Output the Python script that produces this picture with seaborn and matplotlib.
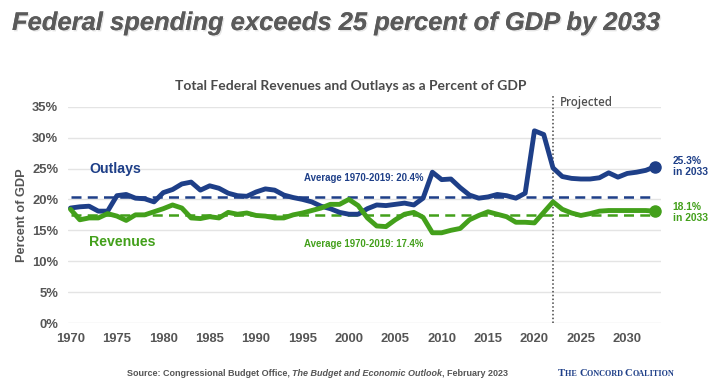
import numpy as np
import pandas as pd
import matplotlib
matplotlib.use("Agg")
import matplotlib.pyplot as plt
import matplotlib.patheffects as pe
import seaborn as sns

# ---------------- data ----------------
years = list(range(1970, 2034))
outlays = [18.6, 18.8, 18.9, 18.1, 18.1, 20.6, 20.8, 20.2, 20.1, 19.6,
           21.1, 21.6, 22.5, 22.8, 21.5, 22.2, 21.8, 21.0, 20.6, 20.5,
           21.2, 21.7, 21.5, 20.7, 20.3, 20.0, 19.6, 18.9, 18.5, 17.9,
           17.6, 17.6, 18.5, 19.1, 19.0, 19.2, 19.4, 19.1, 20.2, 24.4,
           23.2, 23.3, 21.9, 20.7, 20.2, 20.4, 20.8, 20.6, 20.2, 21.0,
           31.1, 30.5, 25.1, 23.7, 23.4, 23.3, 23.3, 23.5, 24.3, 23.6,
           24.2, 24.4, 24.7, 25.3]
revenues = [18.4, 16.7, 17.0, 17.0, 17.7, 17.3, 16.6, 17.5, 17.5, 18.0,
            18.5, 19.1, 18.6, 17.0, 16.9, 17.2, 17.0, 17.9, 17.6, 17.8,
            17.4, 17.3, 17.0, 17.0, 17.5, 17.8, 18.2, 18.6, 19.2, 19.2,
            20.0, 19.0, 17.0, 15.7, 15.6, 16.7, 17.6, 17.9, 17.1, 14.6,
            14.6, 15.0, 15.3, 16.7, 17.4, 18.0, 17.6, 17.2, 16.3, 16.3,
            16.2, 17.9, 19.6, 18.4, 17.8, 17.4, 17.7, 18.1, 18.2, 18.2,
            18.2, 18.2, 18.2, 18.1]
avg_outlays = 20.4
avg_revenues = 17.4
projection_start = 2022
xticks = [1970, 1975, 1980, 1985, 1990, 1995, 2000, 2005, 2010, 2015, 2020, 2025, 2030]
yticks = [0, 5, 10, 15, 20, 25, 30, 35]
ytick_labels = [f"{v}%" for v in yticks]

BLUE = "#1e3f88"
GREEN = "#43a01b"
GRAY = "#555555"

df = pd.DataFrame({
    "year": years * 2,
    "pct": outlays + revenues,
    "series": ["Outlays"] * len(years) + ["Revenues"] * len(years),
})

sns.set_theme(style="white")
plt.rcParams["font.family"] = ["Liberation Sans", "DejaVu Sans"]

fig = plt.figure(figsize=(7.12, 3.81), dpi=100)
ax = fig.add_axes([68 / 712, 1 - 323 / 381, 593 / 712, 216.3 / 381])

sns.lineplot(data=df, x="year", y="pct", hue="series",
             palette={"Outlays": BLUE, "Revenues": GREEN},
             linewidth=3.5, legend=False, ax=ax, zorder=4)

# average lines
ax.plot([1970, 2033], [avg_outlays] * 2, color=BLUE, lw=1.8,
        dashes=(4, 2.5), zorder=3)
ax.plot([1970, 2033], [avg_revenues] * 2, color=GREEN, lw=1.8,
        dashes=(4, 2.5), zorder=3)

# end dots
ax.plot([years[-1]], [outlays[-1]], "o", color=BLUE, ms=8, clip_on=False, zorder=5)
ax.plot([years[-1]], [revenues[-1]], "o", color=GREEN, ms=8, clip_on=False, zorder=5)

# projection line
ax.plot([projection_start] * 2, [0, 36.9], color="#444444", lw=1.1,
        ls=(0, (1, 1.5)), clip_on=False, zorder=2)
ax.text(2022.75, 35.6, "Projected", color="#505050", fontsize=8.3,
        fontfamily="Open Sans", fontweight="semibold", va="center", ha="left")

ax.set_xlim(1969.73, 2033.64)
ax.set_ylim(0, 35)
ax.set_xticks(xticks)
ax.set_yticks(yticks)
ax.set_yticklabels(ytick_labels)
ax.tick_params(axis="both", length=0, labelsize=9.4, labelcolor=GRAY)
ax.tick_params(axis="y", pad=7)
ax.tick_params(axis="x", pad=7.5)
for lab in ax.get_xticklabels() + ax.get_yticklabels():
    lab.set_fontweight("bold")
ax.grid(axis="y", color="#e4e4e4", lw=1)
ax.grid(axis="x", visible=False)
for s in ax.spines.values():
    s.set_visible(False)
ax.set_xlabel("")
ax.set_ylabel("Percent of GDP", fontsize=9.2, fontweight="bold", color=GRAY, labelpad=3)

# series labels
ax.text(1972.0, 25.0, "Outlays", color=BLUE, fontsize=10.2, fontweight="bold", va="center")
ax.text(1972.0, 13.1, "Revenues", color=GREEN, fontsize=10.2, fontweight="bold", va="center")
ax.text(2001.6, 23.5, f"Average 1970-2019: {avg_outlays}%", color=BLUE, fontsize=6.9,
        fontweight="bold", va="center", ha="center")
ax.text(2001.6, 12.8, f"Average 1970-2019: {avg_revenues}%", color=GREEN, fontsize=6.9,
        fontweight="bold", va="center", ha="center")
ax.text(2034.9, 25.3, f"{outlays[-1]}%\nin {years[-1]}", color=BLUE, fontsize=7.4,
        fontweight="bold", va="center", ha="left", linespacing=1.05, clip_on=False)
ax.text(2034.9, 17.9, f"{revenues[-1]}%\nin {years[-1]}", color=GREEN, fontsize=7.4,
        fontweight="bold", va="center", ha="left", linespacing=1.05, clip_on=False)

# titles
fig.text(12 / 712, 1 - 23 / 381, "Federal spending exceeds 25 percent of GDP by 2033",
         fontsize=18.4, fontweight="bold", fontstyle="italic", color="#5a5a5a",
         va="center", ha="left",
         path_effects=[pe.withSimplePatchShadow(offset=(1, -1), shadow_rgbFace="#c0c0c0", alpha=0.4),
                       pe.Normal()])
fig.text(351 / 712, 1 - 86 / 381, "Total Federal Revenues and Outlays as a Percent of GDP",
         fontsize=10.0, fontweight="bold", fontfamily="Lato", color="#4a4a4a",
         va="center", ha="center")

# source line (chained pieces)
src_y = 1 - 376 / 381
t1 = fig.text(127 / 712, src_y, "Source: Congressional Budget Office, ", fontsize=6.5,
              fontweight="bold", color=GRAY, va="baseline", ha="left")
t2 = fig.text(0, 0, "The Budget and Economic Outlook", fontsize=6.5, fontweight="bold",
              fontstyle="italic", color=GRAY, va="baseline", ha="left")
t3 = fig.text(0, 0, ", February 2023", fontsize=6.5, fontweight="bold", color=GRAY,
              va="baseline", ha="left")

fig.canvas.draw()
r = fig.canvas.get_renderer()
def place_after(prev, cur, gap_px=0.0):
    bb = prev.get_window_extent(r)
    x = (bb.x1 + gap_px) / fig.bbox.width
    cur.set_position((x, prev.get_position()[1]))
    fig.canvas.draw()
place_after(t1, t2)
place_after(t2, t3)

# Concord Coalition logo text (small caps emulation)
pieces = [("T", 7.7), ("HE ", 5.9), ("C", 7.7), ("ONCORD ", 5.9), ("C", 7.7), ("OALITION", 5.9)]
prev = None
for txt, sz in pieces:
    t = fig.text(558 / 712, src_y, txt, fontsize=sz, fontweight="bold",
                 fontfamily="Liberation Serif", color=BLUE, va="baseline", ha="left")
    if prev is not None:
        place_after(prev, t)
    prev = t

fig.savefig("out.png", dpi=100)
